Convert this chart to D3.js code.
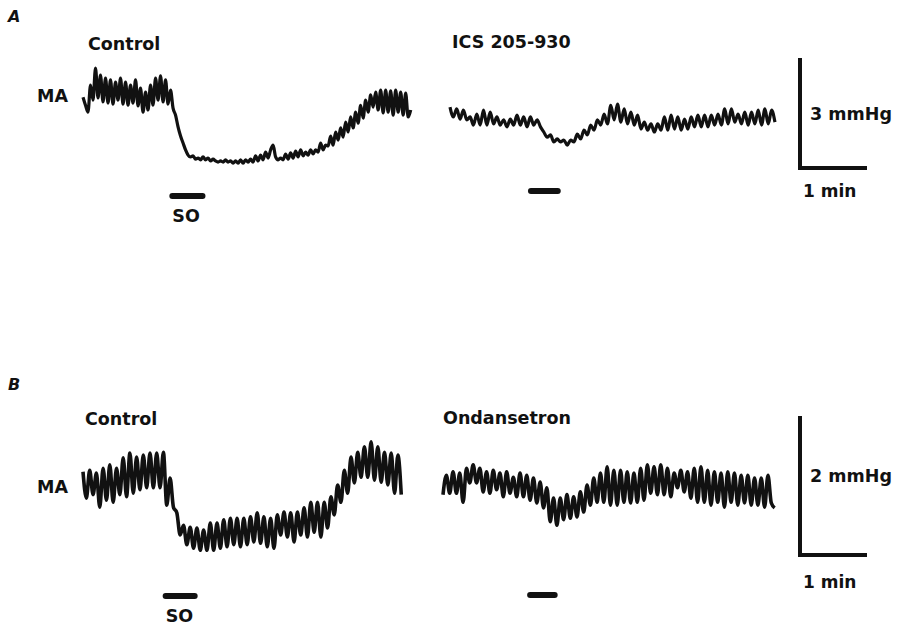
<!DOCTYPE html>
<html>
<head>
<meta charset="utf-8">
<script src="https://cdn.jsdelivr.net/npm/d3@7"></script>
<style>
    body { margin: 0; background: #fff; }
    svg text { font-family: "DejaVu Sans", sans-serif; font-weight: bold; fill: #111; }
</style>
</head>
<body>
<svg id="fig" width="900" height="629"></svg>
<script>
// MA traces, mmHg above each panel's reference level, one sample every sampleStep seconds
const panelNames = ["A", "B"];
const conditionNames = ["Control", "ICS 205-930", "Control", "Ondansetron"];
const sampleStep = [2.24, 3, 3, 3];
const soOnset = [80, 72.5, 74, 78];      // s from trace start
const soLength = [27, 24, 26, 22];       // s
const scaleBarMmHg = [3, 2];
const scaleBarMin = [1, 1];

const traceA1 = [1.85,1.63,1.44,2.18,1.77,2.64,1.83,2.45,1.72,2.37,
    1.69,2.32,1.66,2.26,1.77,2.37,1.66,2.26,1.63,2.18,
    1.69,2.32,1.61,2.10,1.44,1.99,1.50,2.18,1.63,2.37,
    1.77,2.43,1.72,2.32,1.66,2.04,1.55,1.36,1.04,0.79,
    0.60,0.41,0.27,0.22,0.25,0.16,0.19,0.14,0.22,0.14,
    0.19,0.11,0.16,0.11,0.08,0.11,0.08,0.14,0.08,0.11,
    0.05,0.11,0.05,0.14,0.05,0.14,0.08,0.16,0.08,0.25,
    0.11,0.27,0.14,0.35,0.19,0.41,0.54,0.22,0.14,0.19,
    0.14,0.30,0.16,0.33,0.19,0.38,0.22,0.41,0.25,0.35,
    0.27,0.41,0.30,0.41,0.35,0.60,0.41,0.54,0.52,0.79,
    0.54,0.90,0.68,1.01,0.76,1.17,0.90,1.31,1.01,1.44,
    1.14,1.63,1.28,1.77,1.44,1.91,1.58,1.99,1.50,2.04,
    1.42,2.04,1.44,2.02,1.36,2.04,1.44,1.99,1.36,1.96,
    1.31,1.50];

const traceA2 = [1.58,1.31,1.53,1.25,1.50,1.23,1.31,1.09,1.39,1.09,
    1.50,1.09,1.44,1.12,1.31,1.09,1.23,1.04,1.25,1.09,
    1.36,1.09,1.31,1.04,1.31,1.09,1.23,1.04,0.90,0.76,
    0.82,0.63,0.71,0.63,0.68,0.54,0.68,0.63,0.84,0.71,
    0.95,0.82,1.09,0.95,1.23,1.09,1.39,1.12,1.63,
    1.23,1.66,1.17,1.53,1.12,1.44,1.09,1.36,0.98,1.17,
    0.95,1.12,0.90,1.12,0.95,1.31,0.95,1.36,0.98,1.31,
    0.95,1.25,0.98,1.31,1.04,1.36,1.04,1.36,1.04,1.36,
    1.09,1.39,1.09,1.53,1.12,1.53,1.17,1.39,1.12,1.44,
    1.09,1.44,1.12,1.50,1.09,1.53,1.12,1.50,1.17];

const traceB1 = [1.27,0.89,1.29,0.94,1.25,0.76,1.32,0.86,1.37,0.83,
    1.32,0.94,1.47,0.91,1.54,0.96,1.48,1.01,1.51,1.04,
    1.54,1.04,1.54,1.04,1.55,0.79,1.18,0.76,0.68,0.36,
    0.50,0.22,0.47,0.17,0.46,0.14,0.43,0.14,0.53,0.14,
    0.53,0.17,0.58,0.19,0.60,0.22,0.60,0.19,
    0.60,0.22,0.62,0.26,0.68,0.24,0.62,0.19,0.60,0.17,
    0.65,0.36,0.69,0.33,0.68,0.26,0.69,0.36,0.75,0.33,
    0.83,0.40,0.83,0.33,0.83,0.46,0.91,0.65,1.08,0.83,
    1.29,0.96,1.48,1.11,1.55,1.19,1.63,1.19,1.70,1.15,
    1.63,1.12,1.55,1.08,1.54,0.96,1.51,0.94];

const traceB2 = [0.94,1.22,0.96,1.27,0.96,1.25,0.83,1.32,1.11,1.37,
    1.11,1.32,0.98,1.27,0.96,1.29,1.01,1.25,0.91,1.27,
    0.96,1.19,0.91,1.25,0.91,1.22,0.86,1.18,0.82,1.12,
    0.75,1.04,0.55,0.89,0.50,0.89,0.58,0.94,0.60,0.91,
    0.62,0.98,0.69,1.08,0.79,1.18,0.83,1.25,0.83,1.34,
    0.79,1.29,0.79,1.29,0.83,1.27,0.82,1.25,0.83,1.32,
    0.86,1.37,0.96,1.34,0.94,1.37,0.94,1.32,0.91,1.25,
    1.04,1.29,0.98,1.27,0.89,1.32,0.83,1.34,0.83,1.29,
    0.79,1.27,0.83,1.25,0.76,1.27,0.83,1.25,0.79,1.22,
    0.82,1.22,0.79,1.18,0.79,1.18,0.76,1.22,0.82,0.75];

const traces = [traceA1, traceA2, traceB1, traceB2];

// layout
var panels = [
    { letterY: 22, maY: 102, yRange: [165, 55], barBottom: 168, mmLabelY: 120, minLabelY: 197, soLabelY: 222 },
    { letterY: 390, maY: 493, yRange: [560, 421], barBottom: 555, mmLabelY: 482, minLabelY: 588, soLabelY: 622 }
];
var traceBoxes = [
    { panel: 0, x: 83, labelX: 88, labelY: 50, soY: 196 },
    { panel: 0, x: 450, labelX: 452, labelY: 48, soY: 191 },
    { panel: 1, x: 83, labelX: 85, labelY: 425, soY: 596 },
    { panel: 1, x: 443, labelX: 443, labelY: 424, soY: 595 }
];
var barX = 800;

var svg = d3.select("#fig");

// 1 min = 67 px on both panels
var tScale = d3.scaleLinear().domain([0, 60]).range([0, 67]);
var yScales = panels.map(function(p, i) {
    return d3.scaleLinear().domain([0, scaleBarMmHg[i]]).range(p.yRange);
});

panels.forEach(function(p, i) {
    svg.append("text")
        .attr("x", 8).attr("y", p.letterY)
        .style("font-size", "16px")
        .style("font-style", "italic")
        .text(panelNames[i]);

    svg.append("text")
        .attr("x", 37).attr("y", p.maY)
        .style("font-size", "17.5px")
        .text("MA");

    // calibration bars
    var barH = yScales[i](0) - yScales[i](scaleBarMmHg[i]);
    var barW = tScale(scaleBarMin[i] * 60);
    svg.append("path")
        .attr("d", "M" + barX + "," + (p.barBottom - barH) + "V" + p.barBottom + "H" + (barX + barW))
        .attr("fill", "none")
        .attr("stroke", "#111")
        .attr("stroke-width", 4);

    svg.append("text")
        .attr("x", barX + 10).attr("y", p.mmLabelY)
        .style("font-size", "17.5px")
        .text(scaleBarMmHg[i] + " mmHg");

    svg.append("text")
        .attr("x", barX + 3).attr("y", p.minLabelY)
        .style("font-size", "17px")
        .text(scaleBarMin[i] + " min");
});

traceBoxes.forEach(function(b, i) {
    var y = yScales[b.panel];
    var line = d3.line()
        .x(function(d, j) { return b.x + tScale(j * sampleStep[i]); })
        .y(function(d) { return y(d); })
        .curve(d3.curveMonotoneX);

    svg.append("path")
        .datum(traces[i])
        .attr("d", line)
        .attr("fill", "none")
        .attr("stroke", "#111")
        .attr("stroke-width", b.panel === 1 ? 3.6 : 3.2)
        .attr("stroke-linejoin", "round");

    svg.append("text")
        .attr("x", b.labelX).attr("y", b.labelY)
        .style("font-size", "17.5px")
        .text(conditionNames[i]);

    // stimulus bar
    var x1 = b.x + tScale(soOnset[i]);
    var x2 = b.x + tScale(soOnset[i] + soLength[i]);
    svg.append("line")
        .attr("x1", x1).attr("x2", x2)
        .attr("y1", b.soY).attr("y2", b.soY)
        .attr("stroke", "#111")
        .attr("stroke-width", 6)
        .attr("stroke-linecap", "round");

    if (conditionNames[i] === "Control") {
        svg.append("text")
            .attr("x", x1).attr("y", panels[b.panel].soLabelY)
            .style("font-size", "17.5px")
            .text("SO");
    }
});
</script>
</body>
</html>
